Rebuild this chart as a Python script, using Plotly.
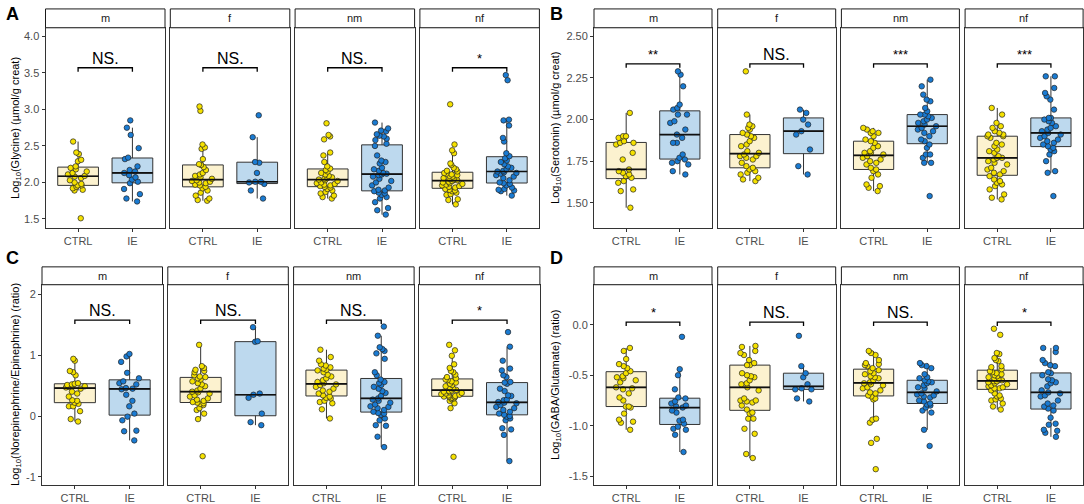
import statistics
import plotly.graph_objects as go

FACETS = ["m", "f", "nm", "nf"]
GROUPS = ["CTRL", "IE"]

# ---------------- Panel A: Glycine ----------------
A_m_CTRL = [2.56, 2.41, 2.39, 2.31, 2.29, 2.22, 2.20, 2.18, 2.15, 2.13, 2.11, 2.09, 2.08, 2.06, 2.03, 2.00, 1.98, 1.96, 1.96, 1.94, 1.92, 1.90, 1.89, 1.51]
A_m_IE = [2.85, 2.75, 2.65, 2.47, 2.34, 2.32, 2.22, 2.17, 2.15, 2.13, 2.10, 2.07, 2.04, 2.01, 1.99, 1.91, 1.84, 1.78, 1.74]
A_f_CTRL = [3.04, 2.98, 2.52, 2.48, 2.46, 2.32, 2.25, 2.24, 2.21, 2.17, 2.13, 2.11, 2.09, 2.07, 2.05, 2.03, 2.02, 2.01, 2.00, 1.99, 1.97, 1.96, 1.94, 1.92, 1.89, 1.86, 1.82, 1.78, 1.76, 1.75]
A_f_IE = [2.92, 2.62, 2.28, 2.27, 2.13, 2.01, 2.01, 2.00, 1.98, 1.89, 1.78]
A_nm_CTRL = [2.81, 2.65, 2.63, 2.59, 2.41, 2.37, 2.28, 2.22, 2.19, 2.17, 2.15, 2.13, 2.11, 2.09, 2.07, 2.06, 2.05, 2.04, 2.03, 2.02, 2.00, 1.99, 1.98, 1.97, 1.96, 1.95, 1.94, 1.93, 1.91, 1.89, 1.87, 1.85, 1.82, 1.80, 1.78]
A_nm_IE = [2.82, 2.74, 2.71, 2.70, 2.66, 2.64, 2.63, 2.60, 2.58, 2.53, 2.50, 2.37, 2.30, 2.28, 2.26, 2.20, 2.18, 2.16, 2.13, 2.12, 2.11, 2.10, 2.08, 2.05, 2.02, 2.00, 1.96, 1.93, 1.90, 1.89, 1.88, 1.86, 1.85, 1.83, 1.80, 1.78, 1.73, 1.65, 1.62, 1.56]
A_nf_CTRL = [3.07, 2.52, 2.44, 2.40, 2.26, 2.24, 2.20, 2.18, 2.16, 2.15, 2.13, 2.12, 2.11, 2.10, 2.09, 2.08, 2.06, 2.05, 2.04, 2.03, 2.02, 2.01, 2.00, 1.99, 1.98, 1.97, 1.96, 1.95, 1.94, 1.93, 1.91, 1.90, 1.89, 1.88, 1.86, 1.84, 1.83, 1.77, 1.76, 1.70]
A_nf_IE = [3.47, 3.40, 2.86, 2.85, 2.78, 2.61, 2.56, 2.40, 2.36, 2.33, 2.30, 2.28, 2.25, 2.22, 2.20, 2.18, 2.16, 2.15, 2.14, 2.13, 2.12, 2.10, 2.08, 2.06, 2.03, 2.00, 1.99, 1.98, 1.96, 1.93, 1.91, 1.90, 1.89, 1.88, 1.82]
A_sig = ["NS.", "NS.", "NS.", "*"]

# ---------------- Panel B: Serotonin ----------------
B_m_CTRL = [2.04, 1.90, 1.90, 1.89, 1.87, 1.86, 1.86, 1.85, 1.80, 1.76, 1.70, 1.69, 1.68, 1.67, 1.66, 1.65, 1.63, 1.62, 1.58, 1.57, 1.47]
B_m_IE = [2.29, 2.27, 2.20, 2.09, 2.07, 2.06, 2.03, 2.03, 1.99, 1.98, 1.94, 1.91, 1.89, 1.86, 1.86, 1.79, 1.77, 1.76, 1.75, 1.74, 1.73, 1.69, 1.67]
B_f_CTRL = [2.29, 2.03, 1.97, 1.96, 1.95, 1.94, 1.92, 1.91, 1.90, 1.89, 1.87, 1.85, 1.84, 1.81, 1.80, 1.79, 1.78, 1.78, 1.77, 1.76, 1.74, 1.72, 1.71, 1.70, 1.69, 1.68, 1.67, 1.65, 1.64, 1.63]
B_f_IE = [2.06, 2.04, 2.00, 1.97, 1.93, 1.91, 1.82, 1.72, 1.67]
B_nm_CTRL = [1.95, 1.94, 1.93, 1.92, 1.92, 1.90, 1.88, 1.87, 1.86, 1.84, 1.83, 1.81, 1.80, 1.80, 1.79, 1.78, 1.77, 1.76, 1.75, 1.74, 1.73, 1.71, 1.70, 1.69, 1.67, 1.65, 1.61, 1.60, 1.59, 1.57]
B_nm_IE = [2.24, 2.20, 2.15, 2.12, 2.11, 2.07, 2.05, 2.03, 2.03, 2.02, 2.01, 2.00, 1.99, 1.98, 1.97, 1.96, 1.95, 1.94, 1.93, 1.92, 1.90, 1.88, 1.87, 1.85, 1.83, 1.79, 1.79, 1.77, 1.74, 1.74, 1.54]
B_nf_CTRL = [2.07, 2.03, 1.98, 1.96, 1.95, 1.93, 1.92, 1.91, 1.91, 1.90, 1.90, 1.89, 1.86, 1.85, 1.84, 1.82, 1.81, 1.80, 1.78, 1.77, 1.77, 1.76, 1.75, 1.74, 1.73, 1.71, 1.70, 1.69, 1.68, 1.67, 1.66, 1.64, 1.63, 1.62, 1.61, 1.60, 1.58, 1.55, 1.53, 1.52]
B_nf_IE = [2.26, 2.26, 2.19, 2.16, 2.14, 2.12, 2.06, 2.01, 2.01, 2.00, 1.99, 1.98, 1.96, 1.95, 1.94, 1.93, 1.92, 1.91, 1.90, 1.89, 1.88, 1.87, 1.86, 1.85, 1.84, 1.83, 1.82, 1.81, 1.79, 1.75, 1.69, 1.68, 1.54]
B_sig = ["**", "NS.", "***", "***"]

# ---------------- Panel C: Norepinephrine/Epinephrine ----------------
C_m_CTRL = [0.94, 0.91, 0.74, 0.72, 0.67, 0.54, 0.53, 0.52, 0.51, 0.50, 0.49, 0.48, 0.47, 0.45, 0.40, 0.37, 0.32, 0.26, 0.25, 0.22, 0.20, 0.16, 0.16, 0.08, -0.05, -0.09]
C_m_IE = [1.02, 0.98, 0.89, 0.71, 0.62, 0.57, 0.54, 0.52, 0.46, 0.45, 0.44, 0.35, 0.25, 0.16, 0.04, -0.01, -0.07, -0.24, -0.25, -0.40]
C_f_CTRL = [1.17, 0.82, 0.79, 0.76, 0.74, 0.72, 0.67, 0.65, 0.64, 0.62, 0.60, 0.57, 0.54, 0.52, 0.49, 0.45, 0.42, 0.40, 0.39, 0.37, 0.34, 0.32, 0.29, 0.27, 0.25, 0.23, 0.22, 0.21, 0.20, 0.18, 0.13, 0.10, 0.04, -0.05, -0.66]
C_f_IE = [1.46, 1.23, 1.22, 0.37, 0.35, 0.30, 0.04, -0.10, -0.15]
C_nm_CTRL = [1.09, 0.97, 0.91, 0.85, 0.83, 0.80, 0.78, 0.76, 0.75, 0.72, 0.68, 0.65, 0.62, 0.59, 0.56, 0.54, 0.52, 0.51, 0.48, 0.45, 0.42, 0.40, 0.37, 0.34, 0.32, 0.30, 0.29, 0.25, 0.23, 0.21, 0.11, -0.04]
C_nm_IE = [1.47, 1.32, 1.13, 1.10, 1.07, 1.03, 0.94, 0.72, 0.67, 0.60, 0.56, 0.54, 0.51, 0.48, 0.45, 0.41, 0.38, 0.33, 0.29, 0.27, 0.25, 0.22, 0.19, 0.16, 0.15, 0.13, 0.10, 0.07, 0.05, 0.04, 0.02, -0.04, -0.07, -0.15, -0.16, -0.34, -0.51]
C_nf_CTRL = [1.17, 1.08, 0.99, 0.85, 0.79, 0.74, 0.72, 0.68, 0.64, 0.62, 0.60, 0.59, 0.57, 0.55, 0.53, 0.51, 0.49, 0.47, 0.45, 0.43, 0.42, 0.41, 0.40, 0.39, 0.38, 0.37, 0.36, 0.35, 0.34, 0.33, 0.32, 0.32, 0.31, 0.30, 0.29, 0.28, 0.25, 0.21, 0.13, -0.67]
C_nf_IE = [1.38, 1.14, 0.91, 0.78, 0.75, 0.67, 0.64, 0.56, 0.55, 0.53, 0.45, 0.41, 0.34, 0.33, 0.27, 0.26, 0.23, 0.22, 0.21, 0.18, 0.15, 0.13, 0.10, 0.07, 0.04, 0.02, 0.00, -0.01, -0.04, -0.07, -0.20, -0.22, -0.31, -0.74]
C_sig = ["NS.", "NS.", "NS.", "*"]

# ---------------- Panel D: GABA/Glutamate ----------------
D_m_CTRL = [-0.23, -0.26, -0.34, -0.39, -0.41, -0.43, -0.46, -0.48, -0.51, -0.52, -0.53, -0.55, -0.57, -0.62, -0.63, -0.64, -0.68, -0.72, -0.75, -0.81, -0.81, -0.82, -0.88, -0.94, -0.96, -0.97, -1.04]
D_m_IE = [-0.12, -0.44, -0.50, -0.64, -0.72, -0.73, -0.76, -0.78, -0.80, -0.81, -0.82, -0.85, -0.87, -0.94, -0.95, -0.98, -1.01, -1.03, -1.04, -1.09, -1.26]
D_f_CTRL = [-0.21, -0.22, -0.26, -0.28, -0.30, -0.35, -0.38, -0.40, -0.40, -0.48, -0.50, -0.51, -0.52, -0.55, -0.58, -0.59, -0.62, -0.65, -0.73, -0.75, -0.75, -0.76, -0.77, -0.80, -0.84, -0.87, -0.88, -0.93, -0.93, -1.03, -1.08, -1.28, -1.32]
D_f_IE = [-0.11, -0.41, -0.48, -0.52, -0.59, -0.63, -0.64, -0.64, -0.73, -0.76]
D_nm_CTRL = [-0.26, -0.28, -0.30, -0.35, -0.38, -0.39, -0.40, -0.41, -0.43, -0.45, -0.46, -0.48, -0.49, -0.51, -0.52, -0.53, -0.55, -0.57, -0.58, -0.59, -0.60, -0.62, -0.63, -0.65, -0.67, -0.68, -0.70, -0.71, -0.73, -0.74, -0.93, -0.94, -0.97, -1.13, -1.17, -1.43]
D_nm_IE = [-0.38, -0.40, -0.41, -0.43, -0.49, -0.52, -0.53, -0.55, -0.56, -0.57, -0.58, -0.60, -0.62, -0.63, -0.66, -0.68, -0.69, -0.70, -0.71, -0.72, -0.75, -0.76, -0.78, -0.79, -0.80, -0.82, -0.85, -0.87, -1.04, -1.20]
D_nf_CTRL = [-0.04, -0.10, -0.28, -0.29, -0.33, -0.35, -0.36, -0.41, -0.42, -0.44, -0.46, -0.47, -0.48, -0.49, -0.50, -0.51, -0.52, -0.53, -0.54, -0.55, -0.56, -0.56, -0.57, -0.58, -0.59, -0.60, -0.61, -0.62, -0.63, -0.63, -0.65, -0.68, -0.70, -0.71, -0.73, -0.74, -0.75, -0.78, -0.81, -0.84]
D_nf_IE = [-0.23, -0.23, -0.27, -0.35, -0.38, -0.40, -0.41, -0.47, -0.48, -0.50, -0.54, -0.55, -0.57, -0.58, -0.61, -0.65, -0.67, -0.68, -0.70, -0.71, -0.75, -0.78, -0.80, -0.81, -0.83, -0.85, -0.92, -0.98, -0.99, -1.04, -1.05, -1.07, -1.11]
D_sig = ["*", "NS.", "NS.", "*"]

# Y-axis ticks and titles
A_ticks = [1.5, 2.0, 2.5, 3.0, 3.5, 4.0]
A_ticktext = ["1.5", "2.0", "2.5", "3.0", "3.5", "4.0"]
B_ticks = [1.50, 1.75, 2.00, 2.25, 2.50]
B_ticktext = ["1.50", "1.75", "2.00", "2.25", "2.50"]
C_ticks = [-1, 0, 1, 2]
C_ticktext = ["-1", "0", "1", "2"]
D_ticks = [-1.5, -1.0, -0.5, 0.0]
D_ticktext = ["-1.5", "-1.0", "-0.5", "0.0"]

TITLES = {
    "A": "Log<sub>10</sub>(Glycine) (µmol/g creat)",
    "B": "Log<sub>10</sub>(Serotonin) (µmol/g creat)",
    "C": "Log<sub>10</sub>(Norepinephrine/Epinephrine) (ratio)",
    "D": "Log<sub>10</sub>(GABA/Glutamate) (ratio)",
}

# ---------------- layout / style constants ----------------
W, H = 1084, 504
FONT = "Liberation Sans, Arial, sans-serif"
PT_COL = {"CTRL": "#F5E100", "IE": "#1A7BD2"}
FILL_COL = {"CTRL": "#FCF2CF", "IE": "#BDD9EE"}
DARK = "#333333"
BOX_W = 0.75

panels = {
    "A": dict(data={"m": (A_m_CTRL, A_m_IE), "f": (A_f_CTRL, A_f_IE), "nm": (A_nm_CTRL, A_nm_IE), "nf": (A_nf_CTRL, A_nf_IE)},
              sig=A_sig, ticks=(A_ticks, A_ticktext), yr=[1.374, 4.118], br=3.571,
              xs=[(45.5, 165.0), (170.3, 289.8), (295.1, 414.6), (419.9, 539.4)],
              plot=(28, 230), strip=(9, 28), title_x=16, letter=(12, 14)),
    "B": dict(data={"m": (B_m_CTRL, B_m_IE), "f": (B_f_CTRL, B_f_IE), "nm": (B_nm_CTRL, B_nm_IE), "nf": (B_nf_CTRL, B_nf_IE)},
              sig=B_sig, ticks=(B_ticks, B_ticktext), yr=[1.347, 2.552], br=2.335,
              xs=[(594, 712), (717.7, 835.7), (841.4, 959.4), (965.1, 1083.1)],
              plot=(28, 230), strip=(9, 28), title_x=556, letter=(556, 14)),
    "C": dict(data={"m": (C_m_CTRL, C_m_IE), "f": (C_f_CTRL, C_f_IE), "nm": (C_nm_CTRL, C_nm_IE), "nf": (C_nf_CTRL, C_nf_IE)},
              sig=C_sig, ticks=(C_ticks, C_ticktext), yr=[-1.135, 2.158], br=1.576,
              xs=[(42, 162.5), (167.8, 288.3), (293.6, 414.1), (419.4, 539.9)],
              plot=(287, 489), strip=(269, 287), title_x=16, letter=(12, 260)),
    "D": dict(data={"m": (D_m_CTRL, D_m_IE), "f": (D_f_CTRL, D_f_IE), "nm": (D_nm_CTRL, D_nm_IE), "nf": (D_nf_CTRL, D_nf_IE)},
              sig=D_sig, ticks=(D_ticks, D_ticktext), yr=[-1.588, 0.396], br=0.026,
              xs=[(594, 712), (717.7, 835.7), (841.4, 959.4), (965.1, 1083.1)],
              plot=(287, 489), strip=(269, 287), title_x=556, letter=(556, 260)),
}


def px_x(v):
    return v / W


def px_y(v):
    return 1 - v / H


fig = go.Figure()
layout = {}
shapes = []
annotations = []

k = 0
for pname, p in panels.items():
    y0p, y1p = p["plot"]
    for fi, facet in enumerate(FACETS):
        k += 1
        xa = "x" if k == 1 else f"x{k}"
        ya = "y" if k == 1 else f"y{k}"
        xkey = "xaxis" if k == 1 else f"xaxis{k}"
        ykey = "yaxis" if k == 1 else f"yaxis{k}"
        xl, xr = p["xs"][fi]
        for gi, grp in enumerate(GROUPS):
            vals = p["data"][facet][gi]
            fig.add_trace(go.Box(
                x=[gi] * len(vals), y=vals, xaxis=xa, yaxis=ya,
                boxpoints="all", jitter=0.55, pointpos=0, width=BOX_W,
                whiskerwidth=0, fillcolor=FILL_COL[grp],
                line=dict(color=DARK, width=1),
                marker=dict(color=PT_COL[grp], size=5.5, line=dict(color="#222222", width=0.7)),
                showlegend=False, hoverinfo="skip",
            ))
            # thicker median bar, as in the original
            med = statistics.median(vals)
            fig.add_trace(go.Scatter(
                x=[gi - BOX_W / 2, gi + BOX_W / 2], y=[med, med], xaxis=xa, yaxis=ya,
                mode="lines", line=dict(color="#111111", width=1.7),
                showlegend=False, hoverinfo="skip",
            ))
        first = fi == 0
        layout[xkey] = dict(
            domain=[px_x(xl), px_x(xr)], anchor=ya, range=[-0.6, 1.6],
            tickvals=[0, 1], ticktext=GROUPS, ticks="outside", ticklen=3,
            tickcolor=DARK, tickwidth=1, showgrid=False, zeroline=False,
            showline=True, mirror=True, linecolor=DARK, linewidth=1,
            tickfont=dict(family=FONT, size=11, color="#4D4D4D"), fixedrange=True,
        )
        layout[ykey] = dict(
            domain=[px_y(y1p), px_y(y0p)], anchor=xa, range=p["yr"],
            tickvals=p["ticks"][0], ticktext=p["ticks"][1],
            showticklabels=first, ticks="outside" if first else "", ticklen=3,
            tickcolor=DARK, tickwidth=1, showgrid=False, zeroline=False,
            showline=True, mirror=True, linecolor=DARK, linewidth=1,
            tickfont=dict(family=FONT, size=11, color="#4D4D4D"), fixedrange=True,
        )
        # strip
        s0, s1 = p["strip"]
        shapes.append(dict(type="rect", xref="paper", yref="paper",
                           x0=px_x(xl), x1=px_x(xr), y0=px_y(s1), y1=px_y(s0),
                           fillcolor="white", line=dict(color="#1A1A1A", width=1)))
        annotations.append(dict(xref="paper", yref="paper", x=px_x((xl + xr) / 2), y=px_y((s0 + s1) / 2),
                                text=facet, showarrow=False, xanchor="center", yanchor="middle",
                                font=dict(family=FONT, size=11, color="#1A1A1A")))
        # significance bracket
        span = p["yr"][1] - p["yr"][0]
        tip = span * 4.0 / (y1p - y0p)
        b = p["br"]
        shapes.append(dict(type="path", xref=xa, yref=ya,
                           path=f"M 0,{b - tip} L 0,{b} L 1,{b} L 1,{b - tip}",
                           line=dict(color="black", width=1.3)))
        lab = p["sig"][fi]
        annotations.append(dict(xref=xa, yref=ya, x=0.5, y=b, text=lab, showarrow=False,
                                xanchor="center", yanchor="bottom",
                                yshift=-1 if lab == "NS." else 0,
                                font=dict(family=FONT, size=16 if lab == "NS." else 13, color="black")))
    # y title
    annotations.append(dict(xref="paper", yref="paper", x=px_x(p["title_x"]), y=px_y((y0p + y1p) / 2),
                            text=TITLES[pname], showarrow=False, textangle=-90,
                            xanchor="center", yanchor="middle",
                            font=dict(family=FONT, size=11, color="black")))
    # panel letter
    lx, ly = p["letter"]
    annotations.append(dict(xref="paper", yref="paper", x=px_x(lx), y=px_y(ly), text=f"<b>{pname}</b>",
                            showarrow=False, xanchor="center", yanchor="middle",
                            font=dict(family=FONT, size=18, color="black")))

fig.update_layout(
    width=W, height=H, margin=dict(l=0, r=0, t=0, b=0),
    paper_bgcolor="white", plot_bgcolor="white", boxmode="overlay",
    shapes=shapes, annotations=annotations, showlegend=False,
    font=dict(family=FONT), **layout,
)

fig.write_html("out.html", config={"displayModeBar": False},
               post_script="document.body.style.margin='0px';document.body.style.padding='0px';document.body.style.overflow='hidden';")
